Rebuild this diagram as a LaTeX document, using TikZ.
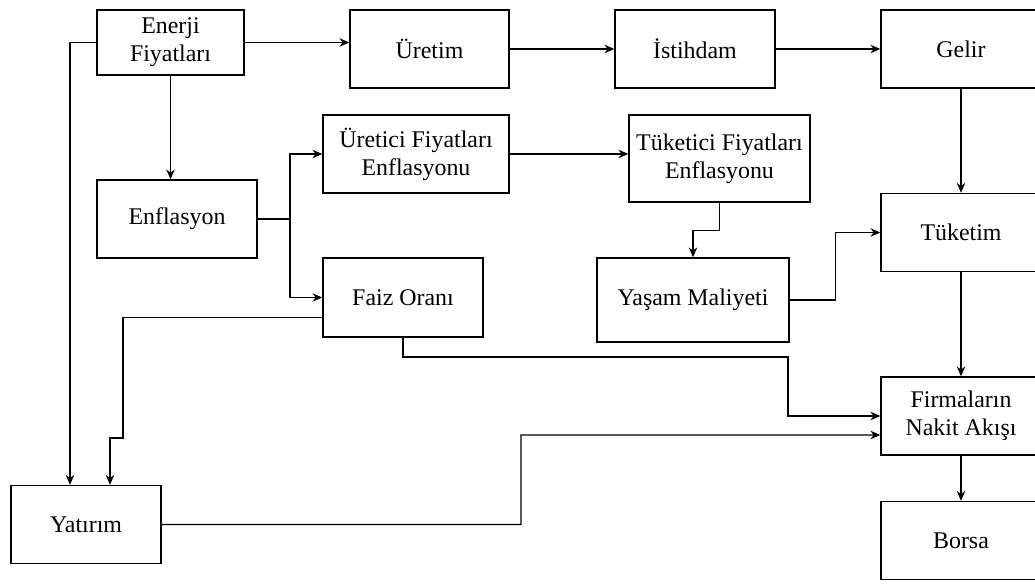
\documentclass[tikz,border=0pt]{standalone}
\usepackage{fontspec}
\setmainfont{Liberation Serif}
\usetikzlibrary{arrows.meta,positioning,calc}

\begin{document}
\begin{tikzpicture}[>={Stealth[length=7pt,width=6pt]},line width=1pt,
 font=\fontsize{17}{20}\selectfont,
 bx/.style={draw,rectangle,minimum width=4cm,minimum height=1.95cm,inner sep=2pt,align=center}]
\useasboundingbox (0,0) rectangle (25.875,14.575);
\node[bx,minimum width=3.675cm,minimum height=1.625cm] (enerji) at (4.2625,13.5125) {Enerji\\Fiyatları};
\node[bx,minimum width=3.975cm] (uretim) at (10.7375,13.35) {Üretim};
\node[bx] (istihdam) at (17.375,13.35) {İstihdam};
\node[bx] (gelir) at (24.025,13.35) {Gelir};
\node[bx] (enflasyon) at (4.425,9.1) {Enflasyon};
\node[bx,minimum width=4.65cm] (uretici) at (10.4,10.725) {Üretici Fiyatları\\Enflasyonu};
\node[bx,minimum width=4.525cm,minimum height=2.175cm] (tuketici) at (17.9875,10.6125) {Tüketici Fiyatları\\Enflasyonu};
\node[bx,minimum height=1.975cm] (faiz) at (10.075,7.1375) {Faiz Oranı};
\node[bx,minimum width=4.8cm,minimum height=2.1cm] (yasam) at (17.325,7.075) {Yaşam Maliyeti};
\node[bx] (tuketim) at (24.025,8.7625) {Tüketim};
\node[bx] (firma) at (24.025,4.175) {Firmaların\\Nakit Akışı};
\node[bx,minimum width=3.75cm] (yatirim) at (2.15,1.4625) {Yatırım};
\node[bx] (borsa) at (24.025,1.0625) {Borsa};
% yardimci noktalar
\coordinate (ey) at ($(yatirim.north)+(-0.4,0)$);
\coordinate (fy) at ($(yatirim.north)+(0.6,0)$);
\coordinate (sp) at (7.25,9.1);
\coordinate (fz) at (19.7,5.65);
\coordinate (yk) at ($(firma.west)+(0,-0.475)$);
% ust sira
\draw[->] (enerji.east) -- (enerji.east -| uretim.west);
\draw[->] (uretim) -- (istihdam); \draw[->] (istihdam) -- (gelir);
\draw[->] (enerji.south) -- (enerji.south |- enflasyon.north);
\draw[->] (enerji.west) -| (ey);
% enflasyon kanali
\draw (enflasyon.east) -- (sp);
\draw[->] (sp) |- (uretici.west); \draw[->] (sp) |- (faiz.west);
\draw[->] (uretici.east) -- (uretici.east -| tuketici.west);
\draw[->] (tuketici.south) -- ++(0,-0.7) -| (yasam.north);
\draw[->] (yasam.east) -- ++(1.15,0) |- (tuketim.west);
% sag sutun
\draw[->] (gelir) -- (tuketim); \draw[->] (tuketim) -- (firma); \draw[->] (firma) -- (borsa);
% faiz ve yatirim
\draw[->] (faiz.south) |- (fz) |- (firma.west);
\draw[->] ($(faiz.west)+(0,-0.5)$) -| (3.075,3.625) -| (fy);
\draw[->] (yatirim.east) -| (13.025,3.7) -- (yk);
\end{tikzpicture}
\end{document}
